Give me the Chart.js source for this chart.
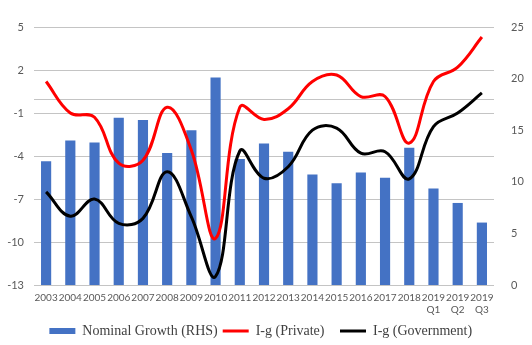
<!DOCTYPE html>
<html>
<head>
<meta charset="utf-8">
<script src="https://cdn.jsdelivr.net/npm/chart.js@4"></script>
<style>
  html, body { margin: 0; padding: 0; background: #fff; }
  #wrap { width: 532px; height: 345px; }
</style>
</head>
<body>
<div id="wrap"><canvas id="myChart"></canvas></div>
<script>
var labels = ['2003', '2004', '2005', '2006', '2007', '2008', '2009', '2010', '2011', '2012',
    '2013', '2014', '2015', '2016', '2017', '2018', ['2019', 'Q1'], ['2019', 'Q2'], ['2019', 'Q3']];

// nominal growth, right axis
var nominalGrowth = [12.0, 14.0, 13.8, 16.2, 16.0, 12.8, 15.0, 20.1, 12.2, 13.7,
    12.9, 10.7, 9.85, 10.9, 10.4, 13.3, 9.35, 7.95, 6.05];
// left axis
var igPrivate = [1.2, -1.0, -1.3, -4.5, -4.3, -0.6, -3.6, -9.75, -0.6, -1.45,
    -0.7, 1.2, 1.65, 0.15, 0.15, -3.1, 1.2, 2.2, 4.3];
var igGovernment = [-6.5, -8.2, -7.0, -8.7, -8.35, -5.1, -8.25, -12.4, -3.65, -5.55,
    -4.75, -2.2, -2.05, -3.8, -3.7, -5.6, -1.95, -1.0, 0.4];

var tickFont = { family: 'Lato', size: 11 };
var gridColor = '#c4c4c4';
var ctx = document.getElementById('myChart');

// line at 0 on the left axis, where the category axis crosses
var zeroLine = {
    id: 'zeroLine',
    beforeDatasetsDraw: function (chart) {
        var y = Math.round(chart.scales.y.getPixelForValue(0)) + 0.5;
        var a = chart.chartArea;
        var c = chart.ctx;
        c.save();
        c.strokeStyle = gridColor;
        c.lineWidth = 1;
        c.beginPath();
        c.moveTo(a.left, y);
        c.lineTo(a.right, y);
        c.stroke();
        c.restore();
    }
};

var myChart = new Chart(ctx, {
    type: 'bar',
    data: {
        labels: labels,
        datasets: [{
            type: 'bar',
            label: 'Nominal Growth (RHS)',
            data: nominalGrowth,
            yAxisID: 'y1',
            backgroundColor: '#4472C4',
            categoryPercentage: 1,
            barPercentage: 0.42,
            pointStyle: 'rect',
            order: 3
        }, {
            type: 'line',
            label: 'I-g (Private)',
            data: igPrivate,
            yAxisID: 'y',
            borderColor: '#FF0000',
            backgroundColor: '#FF0000',
            borderWidth: 3,
            pointRadius: 0,
            tension: 0.4,
            pointStyle: 'line',
            order: 1
        }, {
            type: 'line',
            label: 'I-g (Government)',
            data: igGovernment,
            yAxisID: 'y',
            borderColor: '#000000',
            backgroundColor: '#000000',
            borderWidth: 3,
            pointRadius: 0,
            tension: 0.4,
            pointStyle: 'line',
            order: 2
        }]
    },
    options: {
        responsive: true,
        maintainAspectRatio: false,
        animation: false,
        layout: { padding: { top: 27, left: 0, right: 0, bottom: -3 } },
        plugins: {
            tooltip: { enabled: false },
            legend: {
                position: 'bottom',
                labels: {
                    usePointStyle: true,
                    pointStyleWidth: 26,
                    boxWidth: 26,
                    boxHeight: 6,
                    padding: 5,
                    color: '#404040',
                    font: { family: 'Liberation Serif', size: 14 },
                    // extra room after the first two items
                    generateLabels: function (chart) {
                        var items = Chart.defaults.plugins.legend.labels.generateLabels(chart);
                        items.forEach(function (it, i) {
                            if (i < items.length - 1) it.text = it.text + '   ';
                        });
                        return items;
                    },
                    sort: function (a, b) { return a.datasetIndex - b.datasetIndex; }
                }
            }
        },
        scales: {
            x: {
                afterFit: function (axis) { axis.height = 34; },
                grid: { display: false, drawTicks: false },
                border: { display: false },
                ticks: { color: '#595959', font: { family: 'Lato', size: 10 }, maxRotation: 0, autoSkip: false, padding: 7 }
            },
            y: {
                position: 'left',
                min: -13,
                max: 5,
                afterFit: function (axis) { axis.width = 34; },
                grid: { color: gridColor, lineWidth: 1, drawTicks: false },
                border: { display: false },
                ticks: { stepSize: 3, color: '#595959', font: tickFont, padding: 10 }
            },
            y1: {
                position: 'right',
                min: 0,
                max: 25,
                afterFit: function (axis) { axis.width = 38; },
                grid: { display: false },
                border: { display: false },
                ticks: { stepSize: 5, color: '#595959', font: tickFont, padding: 9 }
            }
        }
    },
    plugins: [zeroLine]
});

window.chart = myChart;
</script>
</body>
</html>
